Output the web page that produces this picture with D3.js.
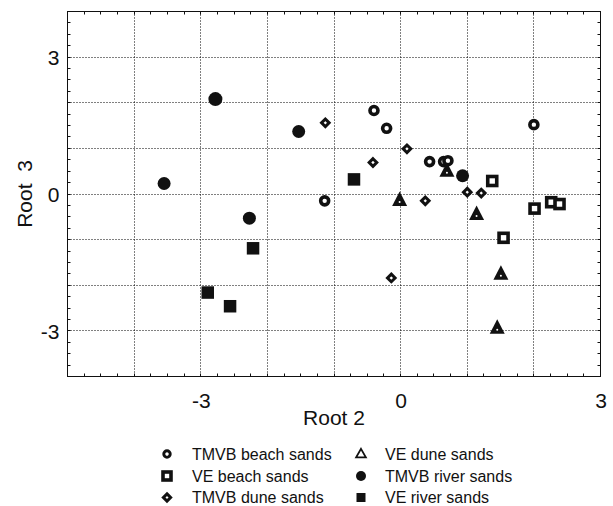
<!DOCTYPE html>
<html>
<head>
<meta charset="utf-8">
<script src="https://cdn.jsdelivr.net/npm/d3@7"></script>
<style>
  body { margin: 0; background: #fff; }
  text { font-family: "Liberation Sans", Arial, sans-serif; fill: #111; }
</style>
</head>
<body>
<svg id="chart"></svg>
<script>
// discriminant scores, [root2, root3]
const tmvbBeach = [[-0.40, 1.83], [-0.21, 1.44], [0.435, 0.71], [0.645, 0.71], [0.71, 0.73], [2.0, 1.52], [-1.14, -0.15]];
const veBeach   = [[1.375, 0.285], [2.01, -0.32], [2.26, -0.18], [2.385, -0.22], [1.545, -0.96]];
const tmvbDune  = [[-1.13, 1.56], [-0.415, 0.69], [0.095, 0.99], [1.0, 0.04], [1.21, 0.02], [0.37, -0.15], [-0.14, -1.84]];
const veDune    = [[-0.015, -0.13], [1.14, -0.44], [0.695, 0.51], [1.505, -1.75], [1.45, -2.93]];
const tmvbRiver = [[-2.78, 2.08], [-1.53, 1.37], [-3.55, 0.23], [-2.27, -0.53], [0.93, 0.40]];
const veRiver   = [[-0.70, 0.32], [-2.215, -1.19], [-2.895, -2.16], [-2.56, -2.46]];

const xTicks = [-3, 0, 3];
const yTicks = [-3, 0, 3];

const groups = [
  {name: "TMVB beach sands", kind: "ocircle",  pts: tmvbBeach},
  {name: "VE beach sands",   kind: "osquare",  pts: veBeach},
  {name: "TMVB dune sands",  kind: "odiamond", pts: tmvbDune},
  {name: "VE dune sands",    kind: "triangle", pts: veDune},
  {name: "TMVB river sands", kind: "fcircle",  pts: tmvbRiver},
  {name: "VE river sands",   kind: "fsquare",  pts: veRiver}
];

const W = 613, H = 506;
const ink = "#111";

const svg = d3.select("#chart").attr("width", W).attr("height", H);
svg.append("rect").attr("width", W).attr("height", H).attr("fill", "#fff");

const x = d3.scaleLinear().domain([-5, 3]).range([67.5, 600.5]);
const y = d3.scaleLinear().domain([-4, 4]).range([376.5, 11.5]);
const crisp = v => Math.round(v - 0.5) + 0.5;

// dotted grid every unit
const g = svg.append("g");
g.selectAll(".vg").data(d3.range(-4, 3)).enter().append("line")
  .attr("x1", d => crisp(x(d))).attr("x2", d => crisp(x(d)))
  .attr("y1", y(4)).attr("y2", y(-4))
  .attr("stroke", "#000").attr("stroke-width", 1).attr("stroke-dasharray", "1,2");
g.selectAll(".hg").data(d3.range(-3, 4)).enter().append("line")
  .attr("y1", d => crisp(y(d))).attr("y2", d => crisp(y(d)))
  .attr("x1", x(-5)).attr("x2", x(3))
  .attr("stroke", "#000").attr("stroke-width", 1).attr("stroke-dasharray", "1,2");

// frame with small inward ticks on every side
const minorX = d3.range(-5, 3.01, 0.25);
const minorY = d3.range(-4, 4.01, 0.25);
const tl = 3;
const ticks = svg.append("g").attr("stroke", ink).attr("stroke-width", 1);
minorX.forEach(v => {
  const px = crisp(x(v));
  ticks.append("line").attr("x1", px).attr("x2", px).attr("y1", y(-4)).attr("y2", y(-4) - tl);
  ticks.append("line").attr("x1", px).attr("x2", px).attr("y1", y(4)).attr("y2", y(4) + tl);
});
minorY.forEach(v => {
  const py = crisp(y(v));
  ticks.append("line").attr("y1", py).attr("y2", py).attr("x1", x(-5)).attr("x2", x(-5) + tl);
  ticks.append("line").attr("y1", py).attr("y2", py).attr("x1", x(3)).attr("x2", x(3) - tl);
});
svg.append("rect")
  .attr("x", x(-5)).attr("y", y(4))
  .attr("width", x(3) - x(-5)).attr("height", y(-4) - y(4))
  .attr("fill", "none").attr("stroke", ink).attr("stroke-width", 1);

// axes via d3 for labels only
const xAxis = d3.axisBottom(x).tickValues(xTicks).tickSize(0).tickPadding(17).tickFormat(d => String(d));
const yAxis = d3.axisLeft(y).tickValues(yTicks).tickSize(0).tickPadding(8).tickFormat(d => String(d));
const xa = svg.append("g").attr("transform", "translate(0," + y(-4) + ")").call(xAxis);
const ya = svg.append("g").attr("transform", "translate(" + x(-5) + ",0)").call(yAxis);
[xa, ya].forEach(a => {
  a.select(".domain").remove();
  a.selectAll("text").attr("font-size", 21).attr("font-family", null).style("fill", ink);
});
ya.selectAll("text").attr("dy", "0.36em");

svg.append("text")
  .attr("x", (x(-5) + x(3)) / 2).attr("y", 425)
  .attr("text-anchor", "middle").attr("font-size", 21)
  .text("Root 2");
svg.append("text")
  .attr("transform", "translate(32," + y(0) + ") rotate(-90)")
  .attr("text-anchor", "middle").attr("font-size", 21)
  .style("white-space", "pre")
  .text("Root  3");

// marker drawing
function drawMarker(sel, kind, legend) {
  if (kind === "ocircle") {
    sel.append("circle").attr("r", legend ? 3.2 : 4)
      .attr("fill", "#fff").attr("stroke", ink).attr("stroke-width", legend ? 3 : 3.6);
  } else if (kind === "osquare") {
    const s = legend ? 8 : 9;
    sel.append("rect").attr("x", -s / 2).attr("y", -s / 2).attr("width", s).attr("height", s)
      .attr("fill", "#fff").attr("stroke", ink).attr("stroke-width", 3.6);
  } else if (kind === "odiamond") {
    const r = legend ? 3.6 : 3.8;
    sel.append("path").attr("d", `M0,${-r}L${r},0L0,${r}L${-r},0Z`)
      .attr("fill", "#fff").attr("stroke", ink).attr("stroke-width", 3).attr("stroke-linejoin", "miter");
  } else if (kind === "triangle") {
    if (legend) {
      const ri = 2.8, c = ri * Math.sqrt(3);
      sel.append("path").attr("d", `M0,${-2 * ri}L${c},${ri}L${-c},${ri}Z`)
        .attr("transform", "translate(0,0.5)")
        .attr("fill", "#fff").attr("stroke", ink).attr("stroke-width", 1.8);
    } else {
      sel.append("path").attr("d", "M0,-8.5L7.5,6L-7.5,6Z").attr("fill", ink);
      sel.append("circle").attr("cy", 2).attr("r", 1).attr("fill", "#fff");
    }
  } else if (kind === "fcircle") {
    sel.append("circle").attr("r", d => legend ? 5 : (d && d.big ? 7 : 6.5)).attr("fill", ink);
  } else if (kind === "fsquare") {
    const s = legend ? 9 : 12.5;
    sel.append("rect").attr("x", -s / 2).attr("y", -s / 2).attr("width", s).attr("height", s).attr("fill", ink);
  }
}

const pts = svg.append("g");
groups.forEach(grp => {
  const m = pts.selectAll(null)
    .data(grp.pts.map((p, i) => ({px: p[0], py: p[1], big: grp.kind === "fcircle" && i === 0})))
    .enter().append("g")
    .attr("transform", d => "translate(" + x(d.px) + "," + y(d.py) + ")");
  drawMarker(m, grp.kind, false);
});

// legend, two columns of three
const legendX = [167, 361], textX = [192, 385], rowY = [454, 476, 497.5];
groups.forEach((grp, i) => {
  const col = Math.floor(i / 3), row = i % 3;
  const lg = svg.append("g").attr("transform", "translate(" + legendX[col] + "," + rowY[row] + ")");
  drawMarker(lg.datum({}), grp.kind, true);
  svg.append("text")
    .attr("x", textX[col]).attr("y", rowY[row]).attr("dy", "0.36em")
    .attr("font-size", 16)
    .text(grp.name);
});
</script>
</body>
</html>
